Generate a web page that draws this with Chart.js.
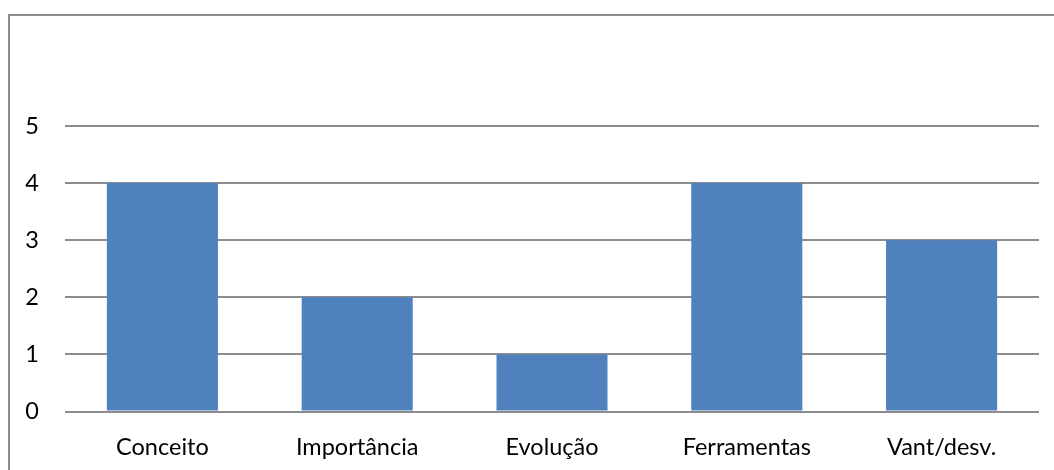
<!DOCTYPE html>
<html>
<head>
<meta charset="utf-8">
<script src="https://cdn.jsdelivr.net/npm/chart.js@4"></script>
<style>
  html, body { margin: 0; padding: 0; background: #fff; }
  #wrap { position: relative; width: 1054px; height: 470px; overflow: hidden; }
  #frame { position: absolute; left: 8px; top: 14px; width: 1100px; height: 500px;
           border-left: 2px solid #8c8c8c; border-top: 2px solid #8c8c8c; }
  canvas { position: absolute; left: 0; top: 0; }
</style>
</head>
<body>
<div id="wrap">
  <div id="frame"></div>
  <canvas id="chart" width="1054" height="470"></canvas>
</div>
<script>
const BLUE = "#4f81bd";
const GRID = "#8c8c8c";

const categories = ["Conceito", "Importância", "Evolução", "Ferramentas", "Vant/desv."];
const values = [4, 2, 1, 4, 3];
const yTicks = [0, 1, 2, 3, 4, 5];

new Chart(document.getElementById("chart"), {
  type: "bar",
  data: {
    labels: categories,
    datasets: [{
      data: values,
      backgroundColor: BLUE,
      barPercentage: 0.57,
      categoryPercentage: 1,
    }],
  },
  options: {
    responsive: false,
    animation: false,
    layout: { padding: { top: 126, right: 15, bottom: 0, left: 0 } },
    plugins: { legend: { display: false }, tooltip: { enabled: false } },
    scales: {
      x: {
        grid: { display: false },
        border: { display: false },
        ticks: { color: "#000", font: { family: "Lato", size: 23.5 }, padding: 13.5 },
        afterFit: (s) => { s.height = 58.5; },
      },
      y: {
        min: 0,
        max: 5,
        afterBuildTicks: (s) => { s.ticks = yTicks.map((v) => ({ value: v })); },
        grid: { color: GRID, lineWidth: 2, drawTicks: false },
        border: { display: false },
        ticks: { color: "#000", font: { family: "Lato", size: 23.5 }, padding: 26 },
        afterFit: (s) => { s.width = 65; },
      },
    },
  },
});
</script>
</body>
</html>
